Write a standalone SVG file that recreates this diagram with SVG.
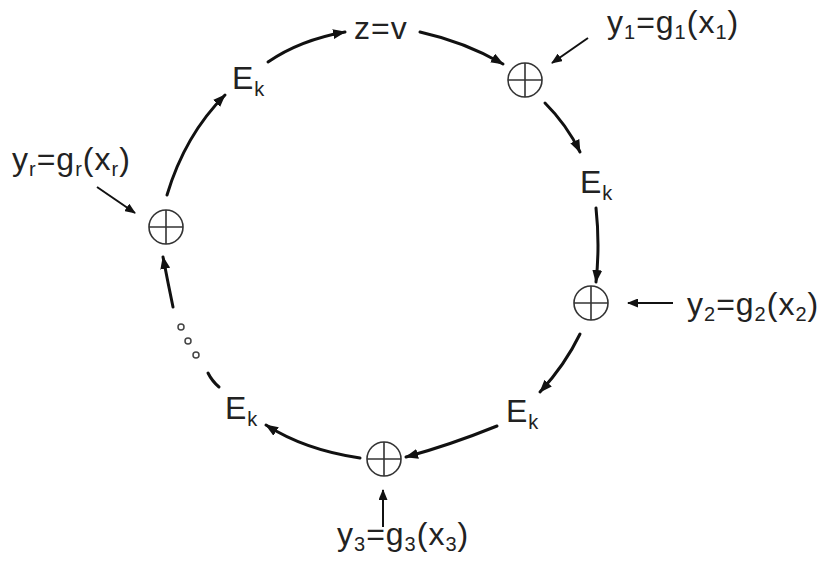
<svg xmlns="http://www.w3.org/2000/svg" width="824" height="574" viewBox="0 0 824 574">
<defs>
<style>
text{font-family:"Liberation Sans",Arial,sans-serif;font-size:32px;fill:#222;letter-spacing:1px}
.sub{font-size:20px}
.arc{fill:none;stroke:#111;stroke-width:3;stroke-linecap:round;marker-end:url(#ah)}
.seg{fill:none;stroke:#111;stroke-width:3;stroke-linecap:round}
.in{fill:none;stroke:#111;stroke-width:2;marker-end:url(#ahs)}
.sum circle{fill:none;stroke:#333;stroke-width:1.6}
.sum line{stroke:#333;stroke-width:1.6}
.dot{fill:none;stroke:#444;stroke-width:1.5}
</style>
<marker id="ah" markerUnits="userSpaceOnUse" markerWidth="13" markerHeight="10" refX="12" refY="5" orient="auto"><path d="M0,0 L13,5 L0,10 z" fill="#111"/></marker>
<marker id="ahs" markerUnits="userSpaceOnUse" markerWidth="11" markerHeight="9" refX="10" refY="4.5" orient="auto"><path d="M0,0 L11,4.5 L0,9 z" fill="#111"/></marker>
<g id="sumsym" class="sum"><circle cx="0" cy="0" r="17"/><line x1="-17" y1="0" x2="17" y2="0"/><line x1="0" y1="-17" x2="0" y2="17"/></g>
</defs>
<rect width="824" height="574" fill="#fff"/>
<g id="z"><text x="354" y="39">z=v</text></g>
<g id="ek1"><text x="232" y="89">E<tspan class="sub" dy="7">k</tspan></text></g>
<g id="ek2"><text x="580" y="193">E<tspan class="sub" dy="7">k</tspan></text></g>
<g id="ek3"><text x="506" y="422">E<tspan class="sub" dy="7">k</tspan></text></g>
<g id="ek4"><text x="225" y="419">E<tspan class="sub" dy="7">k</tspan></text></g>
<g id="sum1"><use href="#sumsym" x="525" y="80"/></g>
<g id="sum2"><use href="#sumsym" x="591" y="303"/></g>
<g id="sum3"><use href="#sumsym" x="384" y="459"/></g>
<g id="sumr"><use href="#sumsym" x="166" y="227"/></g>
<g id="in1"><text x="607" y="33">y<tspan class="sub" dy="6">1</tspan><tspan dy="-6">=g</tspan><tspan class="sub" dy="6">1</tspan><tspan dy="-6">(x</tspan><tspan class="sub" dy="6">1</tspan><tspan dy="-6">)</tspan></text></g>
<g id="in2"><text x="687" y="315">y<tspan class="sub" dy="6">2</tspan><tspan dy="-6">=g</tspan><tspan class="sub" dy="6">2</tspan><tspan dy="-6">(x</tspan><tspan class="sub" dy="6">2</tspan><tspan dy="-6">)</tspan></text></g>
<g id="in3"><text x="337" y="545">y<tspan class="sub" dy="6">3</tspan><tspan dy="-6">=g</tspan><tspan class="sub" dy="6">3</tspan><tspan dy="-6">(x</tspan><tspan class="sub" dy="6">3</tspan><tspan dy="-6">)</tspan></text></g>
<g id="inr"><text x="12" y="170">y<tspan class="sub" dy="6">r</tspan><tspan dy="-6">=g</tspan><tspan class="sub" dy="6">r</tspan><tspan dy="-6">(x</tspan><tspan class="sub" dy="6">r</tspan><tspan dy="-6">)</tspan></text></g>
<g id="dots"><circle class="dot" cx="181" cy="327" r="3"/><circle class="dot" cx="188" cy="341" r="3"/><circle class="dot" cx="196" cy="355" r="3"/></g>
<g id="connectors">
<path class="arc" d="M268,62 Q300,40 345,32"/>
<path class="arc" d="M420,32 Q465,42 503,64"/>
<path class="arc" d="M545,103 Q567,125 580,152"/>
<path class="arc" d="M596,208 Q600,245 596,282"/>
<path class="arc" d="M580,334 Q565,365 540,392"/>
<path class="arc" d="M497,426 Q450,445 406,457"/>
<path class="arc" d="M360,458 Q305,450 266,425"/>
<path class="seg" d="M219,387 Q212,381 208,373"/>
<path class="arc" d="M173,307 Q168,283 163,257"/>
<path class="arc" d="M167,195 Q185,135 225,95"/>
<path class="in" d="M588,38 L552,63"/>
<path class="in" d="M673,303 L628,303"/>
<path class="in" d="M383,527 L383,490"/>
<path class="in" d="M97,187 L135,213"/>
</g>
</svg>
